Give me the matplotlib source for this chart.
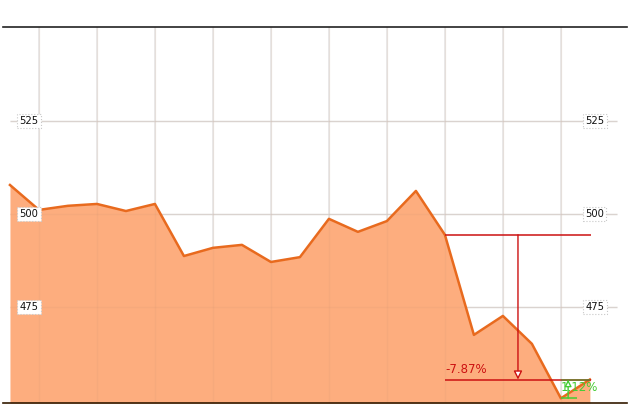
import numpy as np
import matplotlib.pyplot as plt

# closing values
prices = [507.8, 501.1, 502.2, 502.7, 500.8, 502.7, 488.7, 490.9, 491.7, 487.1,
          488.4, 498.7, 495.2, 498.1, 506.2, 494.4, 467.5, 472.6, 465.1, 450.45, 455.5]
y_ticks = [475, 500, 525]
grid_x = [1, 3, 5, 7, 9, 11, 13, 15, 17, 19]

# drawdown / rebound annotations
dd_start, dd_end, dd_label = 15, 20, '-7.87%'
rb_start, rb_end, rb_label = 19, 20, '1.12%'

fill_c = '#fdad7e'
line_c = '#e86a1e'
red = '#cc1111'
green = '#44cc33'

x = np.arange(len(prices))

fig = plt.figure(figsize=(6.37, 4.17), dpi=100)
ax = fig.add_axes([3 / 637, 1 - 403 / 417, 624 / 637, 376 / 417])
ax.set_xlim(-0.24, 21.28)
ax.set_ylim(449.19, 550.27)

for gx in grid_x:
    ax.axvline(gx, color='#e8e8e8', lw=1.3, zorder=0)
    ax.axvline(gx, color='#c89070', lw=1.0, alpha=0.12, zorder=1.5)
for yt in y_ticks:
    ax.hlines(yt, 0, 20.95, color='#dddddd', lw=1, zorder=0)
    ax.hlines(yt, 0, 20.95, color='#c89070', lw=1, alpha=0.12, zorder=1.5)

ax.fill_between(x, prices, 449.19, color=fill_c, lw=0, zorder=1)
ax.plot(x, prices, color=line_c, lw=1.8, zorder=2)

for yt in y_ticks:
    for tx in (0.66, 20.17):
        ax.text(tx, yt, str(yt), ha='center', va='center', fontsize=7.2,
                color='#111111', zorder=5,
                bbox=dict(boxstyle='square,pad=0.22', fc='white',
                          ec='#c8c8c8', ls=':', lw=0.8))

# drawdown
p0, p1 = prices[dd_start], prices[dd_end]
ax.hlines([p0, p1], dd_start, dd_end + 0.03, color=red, lw=1.1, zorder=3)
ax.annotate('', xy=(17.52, p1), xytext=(17.52, p0), zorder=4,
            arrowprops=dict(arrowstyle='-|>,head_length=0.5,head_width=0.25',
                            color=red, fc='white', lw=1.0,
                            shrinkA=0, shrinkB=0))
ax.text(dd_start + 0.02, p1 + 1.0, dd_label, color=red, fontsize=8.5,
        ha='left', va='bottom', zorder=4)

# rebound
q0, q1 = prices[rb_start], prices[rb_end]
ax.hlines(q1, rb_start, rb_end, color='#668833', lw=1.1, zorder=3)
ax.hlines(q0, rb_start, rb_start + 0.55, color=green, lw=1.1, zorder=3)
ax.annotate('', xy=(19.25, q1), xytext=(19.25, q0), zorder=4,
            arrowprops=dict(arrowstyle='-|>,head_length=0.4,head_width=0.2',
                            color=green, fc='white', lw=1.0,
                            shrinkA=0, shrinkB=0))
ax.text(rb_start - 0.02, (q0 + q1) / 2 + 0.4, rb_label, color=green, fontsize=8.5,
        ha='left', va='center', zorder=4)

for s in ('left', 'right'):
    ax.spines[s].set_visible(False)
ax.spines['top'].set_color('#222222')
ax.spines['bottom'].set_color('#331a00')
ax.spines['top'].set_linewidth(1.2)
ax.spines['bottom'].set_linewidth(1.2)
ax.set_xticks([])
ax.set_yticks([])

fig.savefig('out.png', dpi=100, facecolor='white')
